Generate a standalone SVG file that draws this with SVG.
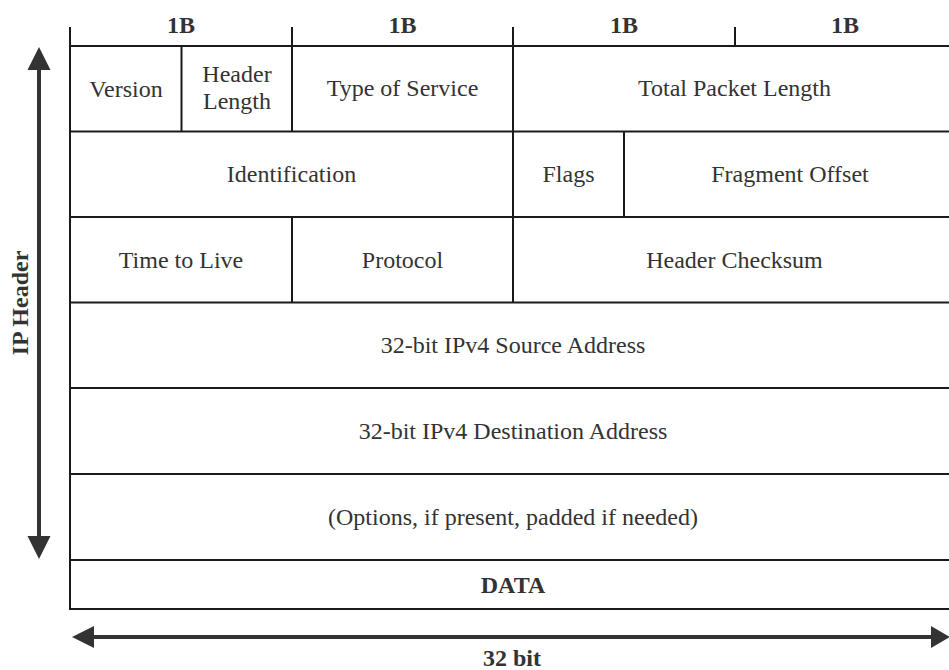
<svg xmlns="http://www.w3.org/2000/svg" width="949" height="670" viewBox="0 0 949 670">
<style>
.grid{stroke:#1a1a1a;stroke-width:2;fill:none}
.t{font-family:"Liberation Serif","Times New Roman",serif;font-size:24px;fill:#333;text-anchor:middle}
.b{font-weight:bold}
.arr{stroke:#333;stroke-width:4;fill:none}
.head{fill:#333}
</style>
<rect width="949" height="670" fill="#fff"/>
<g id="connectors">
  <line class="arr" x1="39" y1="66" x2="39" y2="540"/>
  <polygon class="head" points="39,47 27.5,70 50.5,70"/>
  <polygon class="head" points="39,559 27.5,536 50.5,536"/>
  <line class="arr" x1="90" y1="637" x2="935" y2="637"/>
  <polygon class="head" points="72,637 94,626 94,648"/>
  <polygon class="head" points="950,637 931,626 931,648"/>
</g>
<g id="grid">
  <line class="grid" x1="70" y1="27" x2="70" y2="609"/>
  <line class="grid" x1="292" y1="27" x2="292" y2="46"/>
  <line class="grid" x1="513" y1="27" x2="513" y2="46"/>
  <line class="grid" x1="735" y1="27" x2="735" y2="46"/>
  <line class="grid" x1="69" y1="46" x2="960" y2="46"/>
  <line class="grid" x1="69" y1="131.5" x2="960" y2="131.5"/>
  <line class="grid" x1="69" y1="217" x2="960" y2="217"/>
  <line class="grid" x1="69" y1="302.5" x2="960" y2="302.5"/>
  <line class="grid" x1="69" y1="388" x2="960" y2="388"/>
  <line class="grid" x1="69" y1="474" x2="960" y2="474"/>
  <line class="grid" x1="69" y1="560" x2="960" y2="560"/>
  <line class="grid" x1="69" y1="609" x2="960" y2="609"/>
  <line class="grid" x1="181.5" y1="46" x2="181.5" y2="131.5"/>
  <line class="grid" x1="292" y1="46" x2="292" y2="131.5"/>
  <line class="grid" x1="513" y1="46" x2="513" y2="302.5"/>
  <line class="grid" x1="624" y1="131.5" x2="624" y2="217"/>
  <line class="grid" x1="292" y1="217" x2="292" y2="302.5"/>
</g>
<g id="byte-labels">
  <text class="t b" x="181" y="33">1B</text>
  <text class="t b" x="402.5" y="33">1B</text>
  <text class="t b" x="624" y="33">1B</text>
  <text class="t b" x="845" y="33">1B</text>
</g>
<g id="version"><text class="t" x="126" y="97">Version</text></g>
<g id="header-length"><text class="t" x="237" y="82">Header</text><text class="t" x="237" y="109">Length</text></g>
<g id="tos"><text class="t" x="402.5" y="96">Type of Service</text></g>
<g id="total-length"><text class="t" x="734.5" y="96">Total Packet Length</text></g>
<g id="identification"><text class="t" x="291.5" y="182">Identification</text></g>
<g id="flags"><text class="t" x="568.5" y="182">Flags</text></g>
<g id="fragment-offset"><text class="t" x="790" y="182">Fragment Offset</text></g>
<g id="ttl"><text class="t" x="181" y="268">Time to Live</text></g>
<g id="protocol"><text class="t" x="402.5" y="268">Protocol</text></g>
<g id="checksum"><text class="t" x="734.5" y="268">Header Checksum</text></g>
<g id="source"><text class="t" x="513" y="353">32-bit IPv4 Source Address</text></g>
<g id="destination"><text class="t" x="513" y="439">32-bit IPv4 Destination Address</text></g>
<g id="options"><text class="t" x="513" y="525">(Options, if present, padded if needed)</text></g>
<g id="data"><text class="t b" x="513" y="593">DATA</text></g>
<g id="ip-header-label"><text class="t b" transform="translate(28,303) rotate(-90)">IP Header</text></g>
<g id="width-label"><text class="t b" x="512" y="666">32 bit</text></g>
</svg>
